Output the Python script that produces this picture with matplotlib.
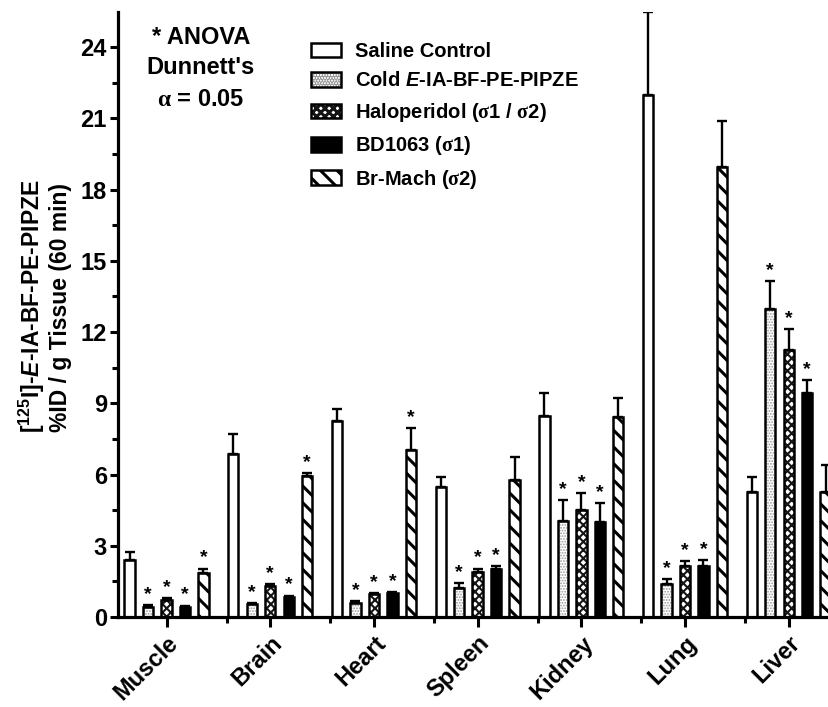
import matplotlib
matplotlib.use('Agg')
import matplotlib.pyplot as plt
from matplotlib.patches import Patch
from matplotlib.legend_handler import HandlerTuple
import numpy as np

plt.rcParams['font.family'] = ['Liberation Sans', 'DejaVu Sans']
plt.rcParams['font.weight'] = 'bold'
plt.rcParams['mathtext.fontset'] = 'custom'
plt.rcParams['mathtext.rm'] = 'Liberation Sans:bold'
plt.rcParams['mathtext.it'] = 'Liberation Sans:bold:italic'
plt.rcParams['mathtext.bf'] = 'Liberation Sans:bold'
plt.rcParams['mathtext.sf'] = 'Liberation Serif'
plt.rcParams['hatch.linewidth'] = 2.2

# ---------------- data ----------------
tissues = ['Muscle', 'Brain', 'Heart', 'Spleen', 'Kidney', 'Lung', 'Liver']
labels = ['Saline Control',
          r'Cold $\mathit{E}$-IA-BF-PE-PIPZE',
          r'Haloperidol ($\mathsf{\sigma}$1 / $\mathsf{\sigma}$2)',
          r'BD1063 ($\mathsf{\sigma}$1)',
          r'Br-Mach ($\mathsf{\sigma}$2)']
saline = [2.42, 6.88, 8.26, 5.47, 8.48, 21.98, 5.26]
saline_err = [0.32, 0.82, 0.50, 0.42, 0.95, 3.50, 0.63]
cold = [0.43, 0.54, 0.58, 1.23, 4.03, 1.38, 12.96]
cold_err = [0.06, 0.06, 0.08, 0.21, 0.91, 0.21, 1.19]
halo = [0.72, 1.31, 0.95, 1.90, 4.49, 2.16, 11.25]
halo_err = [0.08, 0.06, 0.05, 0.14, 0.74, 0.19, 0.87]
bd = [0.44, 0.86, 0.99, 2.01, 4.00, 2.15, 9.45]
bd_err = [0.04, 0.04, 0.07, 0.12, 0.80, 0.25, 0.54]
brmach = [1.86, 5.95, 7.05, 5.75, 8.41, 18.96, 5.26]
brmach_err = [0.18, 0.12, 0.90, 0.99, 0.80, 1.91, 1.16]
sig_cold = [1, 1, 1, 1, 1, 1, 1]
sig_halo = [1, 1, 1, 1, 1, 1, 1]
sig_bd = [1, 1, 1, 1, 1, 1, 1]
sig_br = [1, 1, 1, 0, 0, 0, 0]
sig_saline = [0, 0, 0, 0, 0, 0, 0]

yticks = [0, 3, 6, 9, 12, 15, 18, 21, 24]

# ---------------- figure ----------------
W, H = 829, 707
fig = plt.figure(figsize=(W / 100, H / 100), dpi=100)
ppu = 103.7
x_left = -0.468
x_right = 6.5
y0 = 617.0
ytop = 11.5
ax = fig.add_axes([118 / W, (H - y0) / H, (x_right - x_left) * ppu / W, (y0 - ytop) / H])

pitch = 0.178
bw = 0.10
edge_lw = 1.8
x = np.arange(len(tissues))


def hlw(p, v):
    if hasattr(p, 'set_hatch_linewidth'):
        p.set_hatch_linewidth(v)


series = [
    dict(vals=saline, err=saline_err, sig=sig_saline, kind='saline'),
    dict(vals=cold, err=cold_err, sig=sig_cold, kind='cold'),
    dict(vals=halo, err=halo_err, sig=sig_halo, kind='halo'),
    dict(vals=bd, err=bd_err, sig=sig_bd, kind='bd'),
    dict(vals=brmach, err=brmach_err, sig=sig_br, kind='br'),
]

handles = []
for i, s in enumerate(series):
    xs = x + (i - 2) * pitch
    k = s['kind']
    if k == 'saline':
        ax.bar(xs, s['vals'], bw, color='white', edgecolor='black', linewidth=edge_lw, zorder=2)
        handles.append(Patch(facecolor='white', edgecolor='black', linewidth=edge_lw))
    elif k == 'cold':
        with plt.rc_context({'hatch.linewidth': 0.9}):
            bars = ax.bar(xs, s['vals'], bw, color='white', edgecolor='#9a9a9a', hatch='......', linewidth=0, zorder=2)
            for b in bars:
                hlw(b, 0.9)
            p1 = Patch(facecolor='white', edgecolor='#9a9a9a', hatch='......', linewidth=0)
            hlw(p1, 0.9)
        ax.bar(xs, s['vals'], bw, fill=False, edgecolor='black', linewidth=edge_lw, zorder=2.1)
        handles.append((p1, Patch(fill=False, edgecolor='black', linewidth=edge_lw)))
    elif k == 'halo':
        with plt.rc_context({'hatch.linewidth': 1.5}):
            bars = ax.bar(xs, s['vals'], bw, color='white', edgecolor='#151515', hatch='xxxx', linewidth=0, zorder=2)
            for b in bars:
                hlw(b, 1.5)
            p1 = Patch(facecolor='white', edgecolor='#151515', hatch='xxxx', linewidth=0)
            hlw(p1, 1.5)
        ax.bar(xs, s['vals'], bw, fill=False, edgecolor='black', linewidth=edge_lw, zorder=2.1)
        handles.append((p1, Patch(fill=False, edgecolor='black', linewidth=edge_lw)))
    elif k == 'bd':
        ax.bar(xs, s['vals'], bw, color='black', edgecolor='black', linewidth=edge_lw, zorder=2)
        handles.append(Patch(facecolor='black', edgecolor='black', linewidth=edge_lw))
    elif k == 'br':
        with plt.rc_context({'hatch.linewidth': 2.2}):
            bars = ax.bar(xs, s['vals'], bw, color='white', edgecolor='black', hatch='\\\\', linewidth=edge_lw, zorder=2)
            for b in bars:
                hlw(b, 2.2)
            p1 = Patch(facecolor='white', edgecolor='black', hatch='\\\\', linewidth=edge_lw)
            hlw(p1, 2.2)
        handles.append(p1)
    ax.errorbar(xs, s['vals'], yerr=[np.zeros(len(xs)), s['err']], fmt='none', ecolor='black',
                elinewidth=1.7, capsize=3.4, capthick=1.7, zorder=3)
    for xi, v, e, sg in zip(xs, s['vals'], s['err'], s['sig']):
        if sg:
            ax.annotate('*', (xi, v + e), xytext=(0, 1.5), textcoords='offset points',
                        ha='center', va='bottom', fontsize=14, fontweight='bold', zorder=4)

ax.set_xlim(x_left, x_right)
ax.set_ylim(0, 25.5)
for sp in ['top', 'right']:
    ax.spines[sp].set_visible(False)
for sp in ['left', 'bottom']:
    ax.spines[sp].set_linewidth(2.3)

ax.set_yticks(yticks)
ax.set_yticklabels([str(t) for t in yticks], fontsize=17, fontweight='bold')
ax.set_yticks(np.arange(1.5, 25.5, 3), minor=True)
ax.tick_params(axis='y', which='major', length=6, width=2.2, pad=2)
ax.tick_params(axis='y', which='minor', length=4, width=2.2)

ax.set_xticks(x)
ax.set_xticklabels(tissues, rotation=45, ha='right', va='top', rotation_mode='anchor',
                   fontsize=17, fontweight='bold')
ax.set_xticks(np.arange(6) + 0.58, minor=True)
ax.tick_params(axis='x', which='major', length=7.5, width=2.2, pad=3)
ax.tick_params(axis='x', which='minor', length=4.5, width=2.2)

# y label (two lines)
fig.text(32 / W, 1 - 306 / H, r'[$^{125}$I]-$\mathit{E}$-IA-BF-PE-PIPZE', rotation=90,
         ha='center', va='center', fontsize=16.5, fontweight='bold')
fig.text(61 / W, 1 - 308 / H, '%ID / g Tissue (60 min)', rotation=90,
         ha='center', va='center', fontsize=16.5, fontweight='bold')

# ANOVA annotation
for txt, yy in [('* ANOVA', 37), ("Dunnett's", 68), (r'$\mathsf{\alpha}$ = 0.05', 100)]:
    fig.text(201 / W, 1 - yy / H, txt, ha='center', va='center', fontsize=17, fontweight='bold')

fig.legend(handles, labels, handler_map={tuple: HandlerTuple(ndivide=1, pad=0)},
           loc='upper left', bbox_to_anchor=(311 / W, 1 - 42 / H), frameon=False,
           borderpad=0, borderaxespad=0, handlelength=1.5, handleheight=0.75,
           handletextpad=0.7, labelspacing=0.52,
           prop={'weight': 'bold', 'size': 14.5})

fig.savefig('out.png', dpi=100)
